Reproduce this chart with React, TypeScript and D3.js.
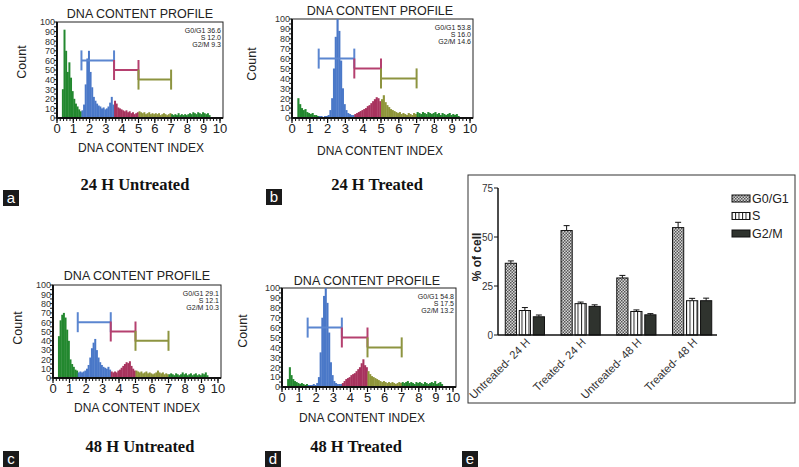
import React from "react";
import * as d3 from "d3";

// ---------- Histogram data (bins of 0.1 starting at 0.3) ----------
const BIN_START = 0.3;
const BIN_WIDTH = 0.1;

const untreated24 = [
  30, 92, 70, 48, 58, 42, 28, 20, 15, 12, 9, 7,
  8, 14, 35, 62, 70, 48, 32, 22, 18, 15, 13, 12, 10, 11, 9, 10, 12, 16, 22, 14,
  18, 15, 11, 10, 9, 8, 7, 8, 6, 7, 5, 6, 4, 5, 6,
  7, 6, 5, 6, 4, 5, 6, 4, 5, 4, 5, 4, 5, 3, 4, 5, 4, 3, 4, 5,
  4, 3, 4, 3, 5, 3, 4, 3, 4, 3, 4, 5, 4, 6, 5, 4, 6, 5, 4, 6, 5, 4, 5, 3,
];
const treated24 = [
  20, 14, 10, 8, 9, 6, 5, 4, 5, 3, 3, 2,
  2, 2, 1, 2, 2, 3, 8, 20, 50, 82, 100, 88, 58, 30, 14, 8, 5, 4, 3, 3,
  4, 5, 6, 7, 8, 9, 10, 12, 13, 15, 17, 19, 21, 20, 17,
  19, 23, 16, 13, 11, 9, 8, 7, 6, 5, 6, 4, 5, 4, 3, 5, 4, 3, 5, 4,
  6, 5, 4, 6, 5, 4, 6, 5, 4, 5, 6, 4, 5, 3, 5, 4, 3, 4, 5, 3, 4, 3, 4, 2,
];
const untreated48 = [
  45, 62, 68, 70, 65, 52, 40, 20, 15, 12, 9, 8,
  6, 7, 6, 7, 8, 10, 14, 22, 32, 38, 42, 30, 22, 17, 14, 12, 11, 10, 12, 9,
  7, 6, 7, 6, 8, 9, 11, 13, 15, 17, 16, 18, 13, 10, 8,
  8, 7, 6, 7, 5, 6, 7, 5, 6, 5, 4, 5, 6, 8, 6, 5, 6, 4, 5, 4,
  4, 5, 4, 3, 5, 4, 3, 4, 6, 4, 5, 3, 4, 5, 3, 4, 5, 3, 4, 3, 5, 4, 6, 3,
];
const treated48 = [
  8, 20, 12, 8, 6, 5, 4, 3, 4, 3, 2, 3,
  2, 2, 2, 3, 2, 4, 10, 35, 70, 92, 100, 85, 55, 25, 12, 6, 4, 3, 3, 3,
  4, 6, 8, 9, 10, 12, 13, 14, 16, 18, 20, 24, 28, 22, 20,
  16, 13, 11, 10, 9, 8, 7, 6, 5, 6, 5, 4, 5, 4, 5, 4, 3, 4, 5, 4,
  5, 4, 5, 6, 4, 5, 4, 3, 5, 4, 5, 4, 3, 5, 4, 3, 4, 5, 4, 6, 3, 4, 5, 3,
];

const statsUntreated24 = ["G0/G1 36.6", "S 12.0", "G2/M 9.3"];
const statsTreated24 = ["G0/G1 53.8", "S 16.0", "G2/M 14.6"];
const statsUntreated48 = ["G0/G1 29.1", "S 12.1", "G2/M 10.3"];
const statsTreated48 = ["G0/G1 54.8", "S 17.5", "G2/M 13.2"];

// gate bars: from, to, level
const gateFrom = [1.5, 3.5, 5];
const gateTo = [3.5, 5, 7];
const gateLevel = [60, 50, 40];

const histXTicks = [0, 1, 2, 3, 4, 5, 6, 7, 8, 9, 10];
const histYTicks = [0, 10, 20, 30, 40, 50, 60, 70, 80, 90, 100];

// ---------- Bar chart data ----------
const groups = ["Untreated- 24 H", "Treated- 24 H", "Untreated- 48 H", "Treated- 48 H"];
const seriesNames = ["G0/G1", "S", "G2/M"];
const g0g1Values = [36.6, 53.3, 29.1, 54.8];
const sValues = [12.5, 16.0, 12.0, 17.5];
const g2mValues = [9.3, 14.6, 10.3, 17.5];
const g0g1Errors = [1.2, 2.5, 1.3, 2.7];
const sErrors = [1.5, 0.8, 0.8, 1.2];
const g2mErrors = [0.9, 0.8, 0.6, 1.3];
const barTicks = [0, 25, 50, 75];

const SANS = "Arial, 'Liberation Sans', sans-serif";
const SERIF = "'Times New Roman', 'Liberation Serif', serif";

const regionColor = (x: number) => {
  if (x < 1.5) return "#23882f";
  if (x < 3.5) return "#4a78c8";
  if (x < 5) return "#a8335e";
  if (x < 7) return "#8f953a";
  return "#23882f";
};
const gateColors = ["#5b86d0", "#b5406f", "#8d9440"];

type HistLayout = {
  x0: number; x1: number; boxRight: number; yTop: number; yBottom: number;
  titleX: number; titleY: number; countX: number; countY: number;
  labelX: number; labelY: number; subtitle: string; subX: number; subY: number;
  letter: string; lx: number; ly: number;
};

function Histogram({ data, stats, L }: { data: number[]; stats: string[]; L: HistLayout }) {
  const xs = d3.scaleLinear().domain([0, 10]).range([L.x0, L.x1]);
  const ys = d3.scaleLinear().domain([0, 100]).range([L.yBottom, L.yTop]);
  const minor = d3.range(0, 10.01, 0.2);
  const minorY = d3.range(0, 100.1, 5);
  return (
    <g>
      <text x={L.titleX} y={L.titleY} textAnchor="middle" fontFamily={SANS} fontSize={12.5} fill="#222">
        DNA CONTENT PROFILE
      </text>
      <rect x={L.x0} y={L.yTop} width={L.boxRight - L.x0} height={L.yBottom - L.yTop} fill="#fff" stroke="#222" strokeWidth={1} />
      {data.map((v, i) => {
        const b = BIN_START + i * BIN_WIDTH;
        const xa = xs(b);
        const xb = xs(b + BIN_WIDTH);
        return (
          <rect key={i} x={xa} y={ys(v)} width={xb - xa + 0.35} height={ys(0) - ys(v)} fill={regionColor(b + BIN_WIDTH / 2)} />
        );
      })}
      {gateFrom.map((f, i) => {
        const yy = ys(gateLevel[i]);
        const c = gateColors[i];
        return (
          <g key={i} stroke={c} strokeWidth={2}>
            <line x1={xs(f)} x2={xs(gateTo[i])} y1={yy} y2={yy} />
            <line x1={xs(f)} x2={xs(f)} y1={yy - 10} y2={yy + 10} />
            <line x1={xs(gateTo[i])} x2={xs(gateTo[i])} y1={yy - 10} y2={yy + 10} />
          </g>
        );
      })}
      <line x1={L.x0} x2={L.boxRight} y1={L.yBottom} y2={L.yBottom} stroke="#111" strokeWidth={2} />
      <line x1={L.x0} x2={L.x0} y1={L.yTop} y2={L.yBottom} stroke="#111" strokeWidth={2} />
      {minor.map((t, i) => (
        <line key={"mx" + i} x1={xs(t)} x2={xs(t)} y1={L.yBottom} y2={L.yBottom + 3} stroke="#111" strokeWidth={1} />
      ))}
      {histXTicks.map((t) => (
        <g key={"x" + t}>
          <line x1={xs(t)} x2={xs(t)} y1={L.yBottom} y2={L.yBottom + 5} stroke="#111" strokeWidth={1.2} />
          <text x={xs(t)} y={L.yBottom + 15} textAnchor="middle" fontFamily={SANS} fontSize={13} fill="#222">{t}</text>
        </g>
      ))}
      {minorY.map((t, i) => (
        <line key={"my" + i} x1={L.x0 - 3} x2={L.x0} y1={ys(t)} y2={ys(t)} stroke="#111" strokeWidth={1} />
      ))}
      {histYTicks.map((t) => (
        <text key={"y" + t} x={L.x0 - 2} y={ys(t) + 3.3} textAnchor="end" fontFamily={SANS} fontSize={9} fill="#333">{t}</text>
      ))}
      {stats.map((s, i) => (
        <text key={"s" + i} x={L.boxRight - 2} y={L.yTop + 11 + i * 7.2} textAnchor="end" fontFamily={SANS} fontSize={7} fill="#222">{s}</text>
      ))}
      <text transform={`translate(${L.countX},${L.countY}) rotate(-90)`} textAnchor="middle" dominantBaseline="central" fontFamily={SANS} fontSize={12.5} fill="#222">
        Count
      </text>
      <text x={L.labelX} y={L.labelY} textAnchor="middle" fontFamily={SANS} fontSize={12} fill="#222">
        DNA CONTENT INDEX
      </text>
      <text x={L.subX} y={L.subY} textAnchor="middle" fontFamily={SERIF} fontWeight="bold" fontSize={16.5} fill="#111">
        {L.subtitle}
      </text>
      <rect x={L.lx} y={L.ly} width={16} height={16} fill="#1a1a1a" />
      <text x={L.lx + 8} y={L.ly + 12.5} textAnchor="middle" fontFamily={SANS} fontSize={15} fill="#fff">{L.letter}</text>
    </g>
  );
}

const layoutA: HistLayout = { x0: 57, x1: 220, boxRight: 223, yTop: 22, yBottom: 118, titleX: 140, titleY: 18, countX: 22, countY: 62, labelX: 141, labelY: 152, subtitle: "24 H Untreated", subX: 135, subY: 190, letter: "a", lx: 3, ly: 190 };
const layoutB: HistLayout = { x0: 292, x1: 470, boxRight: 473, yTop: 19, yBottom: 118, titleX: 380, titleY: 15, countX: 252, countY: 64, labelX: 380, labelY: 155, subtitle: "24 H Treated", subX: 377, subY: 190, letter: "b", lx: 266, ly: 189 };
const layoutC: HistLayout = { x0: 53, x1: 218, boxRight: 221, yTop: 285, yBottom: 378, titleX: 137, titleY: 280, countX: 18, countY: 328, labelX: 137, labelY: 412, subtitle: "48 H Untreated", subX: 140, subY: 452, letter: "c", lx: 3, ly: 451 };
const layoutD: HistLayout = { x0: 282, x1: 453, boxRight: 456, yTop: 288, yBottom: 387, titleX: 367, titleY: 285, countX: 243, countY: 331, labelX: 362, labelY: 422, subtitle: "48 H Treated", subX: 356, subY: 452, letter: "d", lx: 265, ly: 451 };

function BarChart() {
  const x0 = d3.scaleBand().domain(groups).range([497, 720]).padding(0);
  const x1 = d3.scaleBand().domain(seriesNames).range([0, x0.bandwidth()]).paddingInner(0.2).paddingOuter(0.59);
  const y = d3.scaleLinear().domain([0, 75]).range([335, 188]);
  const values = [g0g1Values, sValues, g2mValues];
  const errors = [g0g1Errors, sErrors, g2mErrors];
  const fills = ["url(#patCheck)", "url(#patStripe)", "#2f332e"];
  return (
    <g>
      <defs>
        <pattern id="patCheck" patternUnits="userSpaceOnUse" width={3} height={3}>
          <rect width={3} height={3} fill="#d8d8d8" />
          <rect x={0} y={0} width={1.5} height={1.5} fill="#555" />
          <rect x={1.5} y={1.5} width={1.5} height={1.5} fill="#555" />
        </pattern>
        <pattern id="patStripe" patternUnits="userSpaceOnUse" width={3.5} height={4}>
          <rect width={3.5} height={4} fill="#fff" />
          <rect x={0} y={0} width={1} height={4} fill="#222" />
        </pattern>
      </defs>
      <rect x={468} y={175} width={327} height={228} fill="#fff" stroke="#333" strokeWidth={1} />
      {groups.map((g, gi) =>
        seriesNames.map((s, si) => {
          const v = values[si][gi];
          const e = errors[si][gi];
          const bx = (x0(g) as number) + (x1(s) as number);
          const bw = x1.bandwidth();
          const cx = bx + bw / 2;
          return (
            <g key={g + s}>
              <line x1={cx} x2={cx} y1={y(v)} y2={y(v + e)} stroke="#111" strokeWidth={1} />
              <line x1={cx - 3} x2={cx + 3} y1={y(v + e)} y2={y(v + e)} stroke="#111" strokeWidth={1} />
              <rect x={bx} y={y(v)} width={bw} height={y(0) - y(v)} fill={fills[si]} stroke="#111" strokeWidth={1} />
            </g>
          );
        })
      )}
      <line x1={498} x2={498} y1={y(75)} y2={y(0)} stroke="#111" strokeWidth={1.5} />
      <line x1={498} x2={717} y1={y(0)} y2={y(0)} stroke="#111" strokeWidth={1.5} />
      {barTicks.map((t) => (
        <g key={t}>
          <line x1={494} x2={498} y1={y(t)} y2={y(t)} stroke="#111" strokeWidth={1} />
          <text x={493} y={y(t) + 3.5} textAnchor="end" fontFamily={SANS} fontSize={10} fill="#333">{t}</text>
        </g>
      ))}
      {groups.map((g) => {
        const cx = (x0(g) as number) + x0.bandwidth() / 2 + 6;
        return (
          <text key={g} transform={`translate(${cx},${y(0) + 8}) rotate(-45)`} textAnchor="end" fontFamily={SANS} fontSize={11.3} fill="#333">
            {g}
          </text>
        );
      })}
      <text transform={`translate(477,257) rotate(-90)`} textAnchor="middle" dominantBaseline="central" fontFamily={SANS} fontWeight="bold" fontSize={12} fill="#222">
        % of cell
      </text>
      {seriesNames.map((s, i) => {
        const ly = 195 + i * 17.5;
        return (
          <g key={s}>
            <rect x={732} y={ly} width={18} height={7} fill={fills[i]} stroke="#111" strokeWidth={1} />
            <text x={752} y={ly + 7.5} fontFamily={SANS} fontSize={12.5} fill="#222">{s}</text>
          </g>
        );
      })}
      <rect x={462} y={451} width={16} height={16} fill="#1a1a1a" />
      <text x={470} y={463.5} textAnchor="middle" fontFamily={SANS} fontSize={15} fill="#fff">e</text>
    </g>
  );
}

export default function App() {
  return (
    <div style={{ position: "absolute", left: 0, top: 0 }}>
      <svg width={799} height={467} viewBox="0 0 799 467" style={{ display: "block", background: "#fff" }}>
        <rect width={799} height={467} fill="#fff" />
        <Histogram data={untreated24} stats={statsUntreated24} L={layoutA} />
        <Histogram data={treated24} stats={statsTreated24} L={layoutB} />
        <Histogram data={untreated48} stats={statsUntreated48} L={layoutC} />
        <Histogram data={treated48} stats={statsTreated48} L={layoutD} />
        <BarChart />
      </svg>
    </div>
  );
}
